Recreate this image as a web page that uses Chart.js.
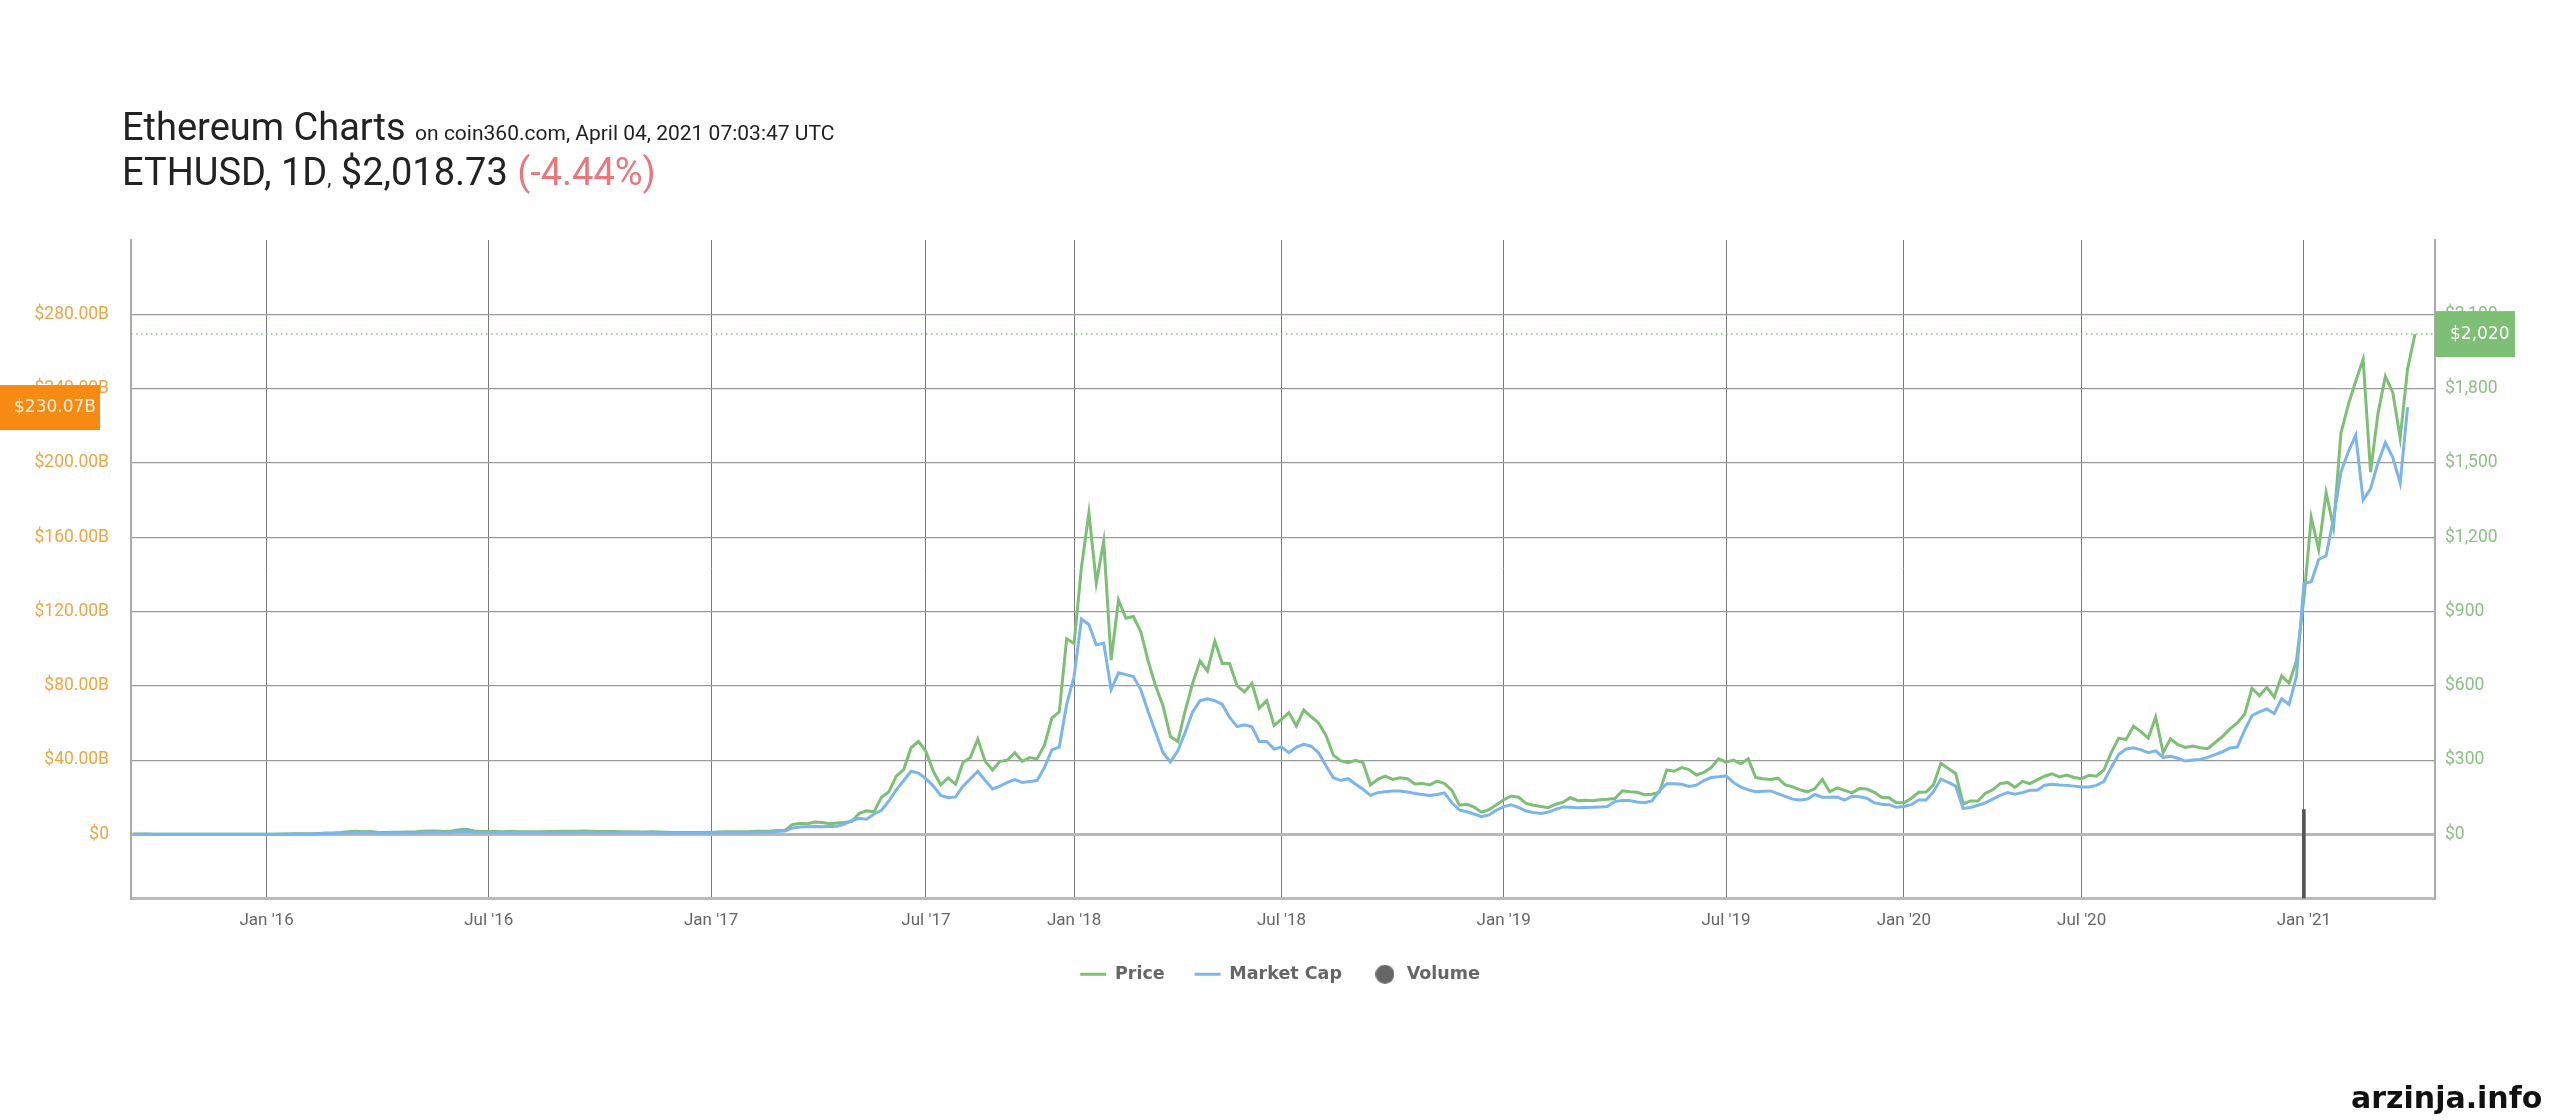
<!DOCTYPE html>
<html lang="en">
<head>
    <meta charset="UTF-8">
    <title>Ethereum Charts</title>
    <script src="https://cdn.jsdelivr.net/npm/chart.js"></script>
    <style>
        body { margin: 0; background: #fff; }
        #wrap { position: relative; width: 2560px; height: 1120px; background: #fff; overflow: hidden; }
        #ethChart { position: absolute; left: 0; top: 0; }
        .head { position: absolute; left: 122px; font-family: Roboto, sans-serif; color: #222; white-space: nowrap; font-size: 38px; line-height: 38px; }
        .head .small { font-size: 21px; }
        .head .down { color: #e8787a; }
        #line1 { top: 108px; }
        #line2 { top: 153px; }
        #mark { position: absolute; left: 2351px; top: 1080px; font-family: "DejaVu Sans", sans-serif; font-weight: bold; font-size: 30px; color: #111; }
    </style>
</head>
<body>
    <div id="wrap">
        <canvas id="ethChart" width="2560" height="1120"></canvas>
        <div class="head" id="line1">Ethereum Charts <span class="small">on coin360.com, April 04, 2021 07:03:47 UTC</span></div>
        <div class="head" id="line2">ETHUSD, 1D<span class="small">,</span> $2,018.73 <span class="down">(-4.44%)</span></div>
        <div id="mark">arzinja.info</div>
    </div>

    <script>
        // one value per sample, samples evenly spaced (ordinal axis)
        const priceUsd = [
            1.2, 1.3, 1.35, 1.0, 0.9, 0.88, 0.95, 0.75, 0.65, 0.58, 0.95, 1.0, 0.9, 0.88, 0.85, 0.87, 0.93, 0.95,
            0.95, 1.0, 1.3, 2.1, 2.3, 2.5, 3.0, 4.2, 5.5, 6.0, 8.0, 11.0, 12.5, 10.8, 11.5, 8.5, 7.5, 8.4, 8.8, 9.5,
            10.2, 12.5, 14.0, 13.7, 11.5, 14.2, 18.5, 20.5, 14.0, 12.2,
            12.0, 11.5, 11.2, 13.0, 11.0, 10.5, 11.0, 10.8, 11.5, 12.2, 12.8, 13.0, 12.6, 13.4, 12.5, 11.9, 12.1, 11.3,
            10.9, 10.7, 10.0, 9.8, 10.5, 9.6, 8.4, 7.8, 8.0, 7.6, 7.3, 8.0,
            8.2, 9.8, 10.6, 10.5, 10.8, 11.0, 12.5, 12.8, 13.5,
            16, 17, 40, 44, 43, 50, 48, 43, 46, 48, 52, 85, 95, 92, 150, 172, 235, 262, 350, 375,
            335, 255, 200, 228, 203, 290, 310, 385, 295, 260, 295, 300, 330, 295, 310, 305, 360, 470, 495, 790,
            771, 1080, 1299, 1015, 1184, 704, 947, 873, 880, 819, 700, 600, 520, 395, 375, 500, 610, 700, 660, 780,
            690, 690, 600, 575, 610, 510, 540, 440, 465, 492, 438,
            502, 475, 450, 400, 320, 297, 290, 299, 290, 200, 222, 235, 222, 229, 225, 204, 206, 200, 215, 205,
            178, 118, 122, 110, 90, 100, 120, 140, 155, 150, 125, 118, 113, 108, 122, 130, 148, 136, 138, 136,
            140, 142, 145, 176, 172, 170, 160, 162, 170, 260, 255, 270, 262, 240, 250, 270, 305, 292, 300, 285,
            305, 230, 225, 222, 227, 200, 192, 180, 172, 185, 222, 172, 188, 178, 168, 185, 183, 170, 150, 148,
            128, 128, 145, 170,
            171, 200, 287, 266, 246, 123, 135, 135, 166, 180, 205, 210, 190, 214, 205, 220, 235, 245, 232, 240,
            230, 225, 239, 235, 260, 330, 389, 383, 437, 415, 389, 474, 330, 386, 362, 351, 357, 350, 346, 370,
            395, 425, 450, 485, 590, 560, 594, 554, 640, 610, 700, 950, 1280, 1150, 1380, 1240, 1620, 1735, 1830, 1918,
            1463, 1700, 1850, 1785, 1600, 1880, 2020
        ];

        // market cap, billions of USD
        const marketCapB = [
            0.09, 0.1, 0.1, 0.075, 0.066, 0.065, 0.07, 0.055, 0.048, 0.043, 0.071, 0.075, 0.068, 0.066, 0.064, 0.066, 0.07, 0.072,
            0.07, 0.075, 0.1, 0.16, 0.18, 0.19, 0.23, 0.33, 0.43, 0.47, 0.63, 0.87, 0.99, 0.86, 0.92, 0.68, 0.6, 0.67, 0.71, 0.77,
            0.83, 1.02, 1.14, 1.12, 0.94, 1.16, 1.52, 1.69, 1.15, 1.0,
            0.99, 0.95, 0.93, 1.08, 0.91, 0.87, 0.92, 0.9, 0.96, 1.02, 1.07, 1.09, 1.06, 1.13, 1.05, 1.0, 1.02, 0.96,
            0.92, 0.91, 0.85, 0.84, 0.9, 0.82, 0.72, 0.67, 0.69, 0.66, 0.63, 0.69,
            0.71, 0.85, 0.92, 0.92, 0.95, 0.96, 1.1, 1.13, 1.2,
            1.5, 1.8, 3.5, 4.0, 4.1, 4.2, 4.1, 4.3, 4.4, 5.5, 7.5, 8.7, 8.2, 11, 13, 18, 24, 29, 34, 33,
            30, 26, 21, 19.8, 20.2, 26, 30, 34, 29, 24.5, 26, 28, 29.5, 28, 28.5, 29, 36, 45.5, 47, 70,
            85, 116, 113, 102, 103, 78, 87, 86, 85, 78, 66, 55, 44, 39, 45, 55, 66, 72, 73, 72,
            70, 63, 58, 59, 58, 50, 50, 46, 47, 44, 47,
            48.5, 47.5, 44, 37, 30.5, 29, 30, 27, 24.3, 21, 22.5, 23, 23.4, 23.4, 22.8, 22, 21.5, 21, 21.5, 22.4,
            17, 13.2, 12.2, 11, 9.5, 10.5, 13, 15, 16, 14.5, 12.6, 11.8, 11.3, 12, 13.5, 14.8, 14.6, 14.4, 14.5, 14.6,
            14.8, 15, 17.8, 18.2, 18.3, 17.5, 17.1, 18, 23.5, 27.3, 27.3, 27, 25.8, 26.5, 29, 30.6, 31, 31.5, 28, 25.5,
            24, 23, 23.2, 23.4, 22, 20.5, 19, 18.5, 19, 21.5, 20, 20, 20.1, 18.5, 20.5, 20.3, 19.5, 17, 16.3, 16,
            14.6, 15, 16, 18.5,
            18.5, 23, 29.8, 28, 26, 14, 14.5, 15.7, 17, 19, 21, 22.5, 21.7, 22.5, 23.8, 23.8, 26.5, 27, 26.6, 26.4,
            26, 25.5, 25.5, 26.4, 28.5, 36, 43, 46, 46.6, 45.5, 44, 45, 41.5, 42, 41, 39.5, 40, 40.4, 41.5, 43,
            44.5, 46.5, 47, 56, 64, 66, 67.5, 65, 73, 70, 85, 135, 136, 148, 150, 170, 195, 206, 215, 180,
            186, 200, 211, 203, 189, 230.07
        ];

        // the only visible volume bar (billions of USD) and its sample index
        const volumeIndex = [293];
        const volumeB = [54];

        // month labels and the sample index where each month starts
        const tickIndex = [18, 48, 78, 107, 127, 155, 185, 215, 239, 263, 293];
        const tickLabels = ["Jan '16", "Jul '16", "Jan '17", "Jul '17", "Jan '18", "Jul '18",
                            "Jan '19", "Jul '19", "Jan '20", "Jul '20", "Jan '21"];

        const capTicks = [0, 40, 80, 120, 160, 200, 240, 280];
        const priceTicks = [0, 300, 600, 900, 1200, 1500, 1800, 2100];

        const GREEN = '#7dbf74';
        const BLUE = '#7cb5ec';
        const ORANGE = '#f0a545';
        const TICK_FONT = "Roboto, sans-serif";

        // round dot used for the volume legend item
        const volDot = document.createElement('canvas');
        volDot.width = 19;
        volDot.height = 19;
        const dctx = volDot.getContext('2d');
        dctx.fillStyle = '#666';
        dctx.beginPath();
        dctx.arc(9.5, 9.5, 9.5, 0, Math.PI * 2);
        dctx.fill();

        const lastPrice = priceUsd[priceUsd.length - 1];
        const lastCap = marketCapB[marketCapB.length - 1];

        const lastValueMarks = {
            id: 'lastValueMarks',
            beforeDatasetsDraw(chart) {
                const { ctx, chartArea, scales } = chart;
                const y = scales.yP.getPixelForValue(lastPrice);
                ctx.save();
                ctx.setLineDash([1.5, 3.5]);
                ctx.strokeStyle = '#8fbf88';
                ctx.lineWidth = 1.5;
                ctx.beginPath();
                ctx.moveTo(chartArea.left, y);
                ctx.lineTo(chartArea.right, y);
                ctx.stroke();
                ctx.restore();
            },
            afterDraw(chart) {
                const { ctx, chartArea, scales } = chart;
                ctx.save();
                ctx.font = "17px 'DejaVu Sans', sans-serif";
                ctx.textBaseline = 'middle';

                const yp = scales.yP.getPixelForValue(lastPrice);
                ctx.fillStyle = '#7dbf74';
                ctx.fillRect(chartArea.right, yp - 23, 80, 46);
                ctx.fillStyle = '#fff';
                ctx.fillText('$' + Math.round(lastPrice).toLocaleString('en-US'), chartArea.right + 15, yp);

                const yc = scales.yM.getPixelForValue(lastCap);
                ctx.fillStyle = '#f78a12';
                ctx.fillRect(0, yc - 22, 100, 45);
                ctx.fillStyle = '#fdf0dc';
                ctx.fillText('$' + lastCap.toFixed(2) + 'B', 14, yc + 1);
                ctx.restore();
            }
        };

        const ctx = document.getElementById('ethChart').getContext('2d');
        new Chart(ctx, {
            type: 'line',
            data: {
                datasets: [
                    {
                        label: 'Price',
                        data: priceUsd.map((y, i) => ({ x: i, y: y })),
                        yAxisID: 'yP',
                        borderColor: GREEN,
                        backgroundColor: GREEN,
                        borderWidth: 3,
                        pointRadius: 0,
                        pointStyle: 'line',
                        order: 2
                    },
                    {
                        label: 'Market Cap',
                        data: marketCapB.map((y, i) => ({ x: i, y: y })),
                        yAxisID: 'yM',
                        borderColor: BLUE,
                        backgroundColor: BLUE,
                        borderWidth: 3,
                        pointRadius: 0,
                        pointStyle: 'line',
                        order: 1
                    },
                    {
                        type: 'bar',
                        label: 'Volume',
                        data: volumeIndex.map((x, i) => ({ x: x, y: volumeB[i] })),
                        yAxisID: 'yV',
                        backgroundColor: '#555',
                        barThickness: 3,
                        pointStyle: volDot,
                        order: 0
                    }
                ]
            },
            options: {
                responsive: false,
                animation: false,
                devicePixelRatio: 1,
                layout: { padding: { top: 240, left: 0, right: 0, bottom: 127 } },
                plugins: {
                    tooltip: { enabled: false },
                    legend: {
                        position: 'bottom',
                        labels: {
                            usePointStyle: true,
                            pointStyleWidth: 26,
                            padding: 30,
                            color: '#666',
                            font: { family: "'DejaVu Sans', sans-serif", size: 17.5, weight: 'bold' },
                            sort: (a, b) => a.datasetIndex - b.datasetIndex
                        }
                    }
                },
                scales: {
                    x: {
                        type: 'linear',
                        offset: false,
                        min: -0.3,
                        max: 310.7,
                        afterBuildTicks: (scale) => { scale.ticks = tickIndex.map(v => ({ value: v })); },
                        afterFit: (scale) => { scale.height = 37; },
                        ticks: {
                            autoSkip: false,
                            maxRotation: 0,
                            padding: 12,
                            color: '#666',
                            font: { family: TICK_FONT, size: 17 },
                            callback: (v) => tickLabels[tickIndex.indexOf(v)]
                        },
                        grid: { offset: false, color: '#7a7a7a', lineWidth: 1, drawTicks: false },
                        border: { color: '#bbb', width: 3 }
                    },
                    yM: {
                        position: 'left',
                        min: -34.5,
                        max: 320,
                        afterBuildTicks: (scale) => { scale.ticks = capTicks.map(v => ({ value: v })); },
                        afterFit: (scale) => { scale.width = 131; },
                        ticks: {
                            padding: 22,
                            color: ORANGE,
                            font: { family: TICK_FONT, size: 17.5 },
                            callback: (v) => v === 0 ? '$0' : '$' + v.toFixed(2) + 'B'
                        },
                        grid: {
                            drawTicks: false,
                            color: (c) => c.tick && c.tick.value === 0 ? '#b8b8b8' : '#9a9a9a',
                            lineWidth: (c) => c.tick && c.tick.value === 0 ? 3 : 1.2
                        },
                        border: { color: '#aaa', width: 2 }
                    },
                    yP: {
                        position: 'right',
                        min: -258.75,
                        max: 2400,
                        afterBuildTicks: (scale) => { scale.ticks = priceTicks.map(v => ({ value: v })); },
                        afterFit: (scale) => { scale.width = 125; },
                        ticks: {
                            padding: 10,
                            color: '#8cc084',
                            font: { family: TICK_FONT, size: 17.5 },
                            callback: (v) => '$' + v.toLocaleString('en-US')
                        },
                        grid: { display: false, drawTicks: false },
                        border: { color: '#aaa', width: 2 }
                    },
                    yV: {
                        display: false,
                        min: 0,
                        max: 400
                    }
                }
            },
            plugins: [lastValueMarks]
        });
    </script>
</body>
</html>
